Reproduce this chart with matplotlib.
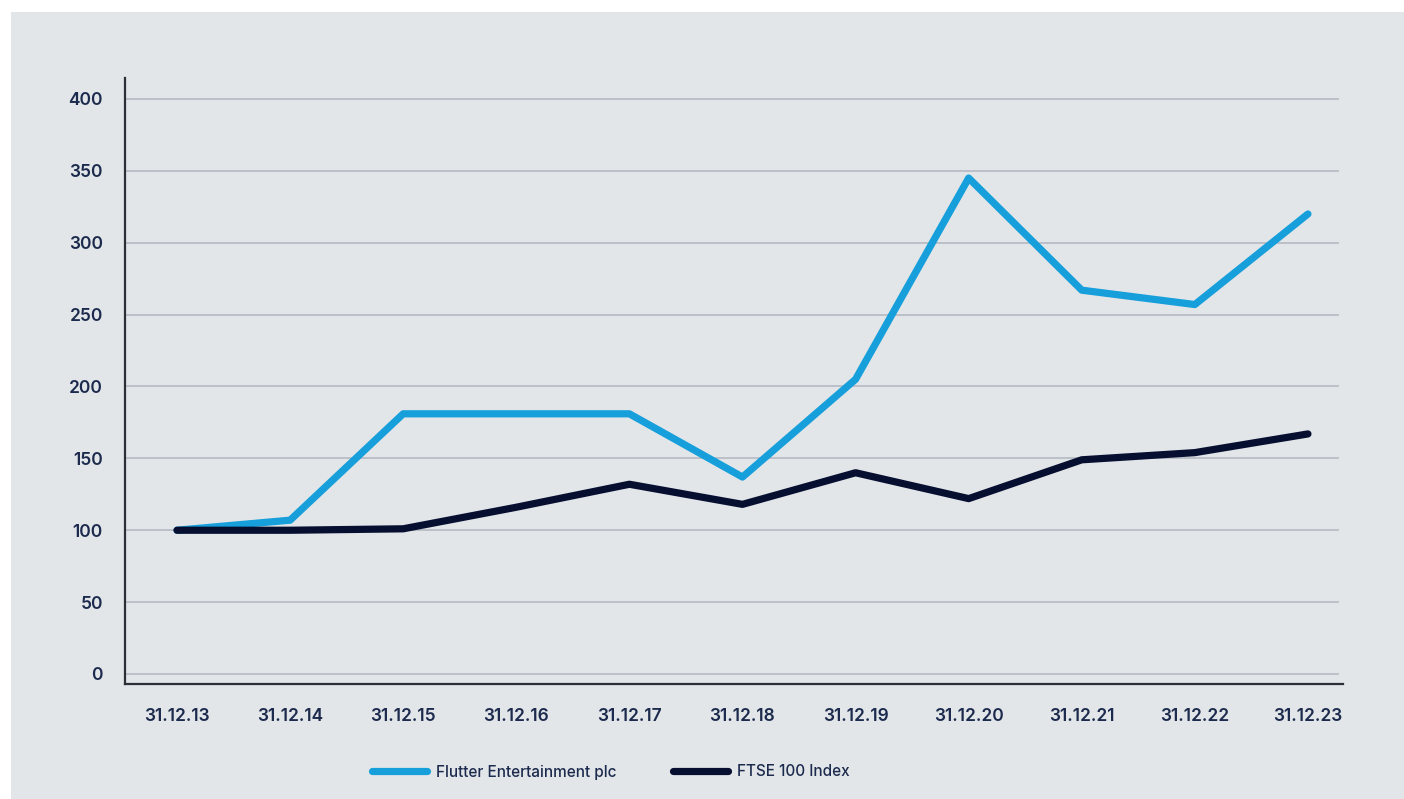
import matplotlib.pyplot as plt
from matplotlib.patches import Rectangle

# ---------------------------------------------------------------------
# Data (Total shareholder return, rebased to 100)
# ---------------------------------------------------------------------
dates = [
    "31.12.13", "31.12.14", "31.12.15", "31.12.16", "31.12.17", "31.12.18",
    "31.12.19", "31.12.20", "31.12.21", "31.12.22", "31.12.23",
]
flutter = [100, 107, 181, 181, 181, 137, 205, 345, 267, 257, 320]
ftse = [100, 100, 101, 116, 132, 118, 140, 122, 149, 154, 167]
y_ticks = [0, 50, 100, 150, 200, 250, 300, 350, 400]

BG = "#e2e6e9"
BLUE = "#169fda"
NAVY = "#060f30"
TEXT = "#1c2a4d"
GRID = "#b9bdc6"

plt.rcParams["font.family"] = ["Inter", "DejaVu Sans"]

fig = plt.figure(figsize=(14.04, 7.99), dpi=100)
fig.patch.set_facecolor("white")

# grey panel behind the chart
fig.patches.append(
    Rectangle((11 / 1404, 0), 1, (799 - 12) / 799,
              transform=fig.transFigure, facecolor=BG, edgecolor="none", zorder=-5)
)

ax = fig.add_axes([125 / 1404, 115 / 799, 1218 / 1404, 606 / 799])
ax.set_zorder(2)
ax.patch.set_alpha(0)

x = list(range(len(dates)))

ax.set_xlim(-0.46, 10.31)
ax.set_ylim(-6.96, 414.6)

# horizontal gridlines
for v in y_ticks:
    ax.axhline(v, xmin=0, xmax=(1338 - 125) / 1218, color=GRID, lw=1.3, zorder=1)

ax.plot(x, flutter, color=BLUE, lw=5.2, solid_capstyle="round",
        label="Flutter Entertainment plc", zorder=3)
ax.plot(x, ftse, color=NAVY, lw=5.2, solid_capstyle="round",
        label="FTSE 100 Index", zorder=4)

ax.set_xticks(x)
ax.set_xticklabels(dates)
ax.set_yticks(y_ticks)

ax.tick_params(axis="both", length=0, labelsize=12.5, labelcolor=TEXT)
ax.tick_params(axis="x", pad=17)
ax.tick_params(axis="y", pad=16)
for lab in ax.get_xticklabels() + ax.get_yticklabels():
    lab.set_fontweight("semibold")

for side in ["top", "right"]:
    ax.spines[side].set_visible(False)
for side in ["left", "bottom"]:
    ax.spines[side].set_color("#2b2f36")
    ax.spines[side].set_linewidth(1.6)

leg = fig.legend(
    loc="center left",
    bbox_to_anchor=(372 / 1404, 1 - 772 / 799),
    ncol=2,
    frameon=False,
    fontsize=11,
    handlelength=3.6,
    handletextpad=0.6,
    columnspacing=3.7,
    borderpad=0,
    borderaxespad=0,
)
leg.set_zorder(3)
for t in leg.get_texts():
    t.set_color(TEXT)
    t.set_fontweight("medium")

fig.savefig("out.png", dpi=100, facecolor=fig.get_facecolor())
